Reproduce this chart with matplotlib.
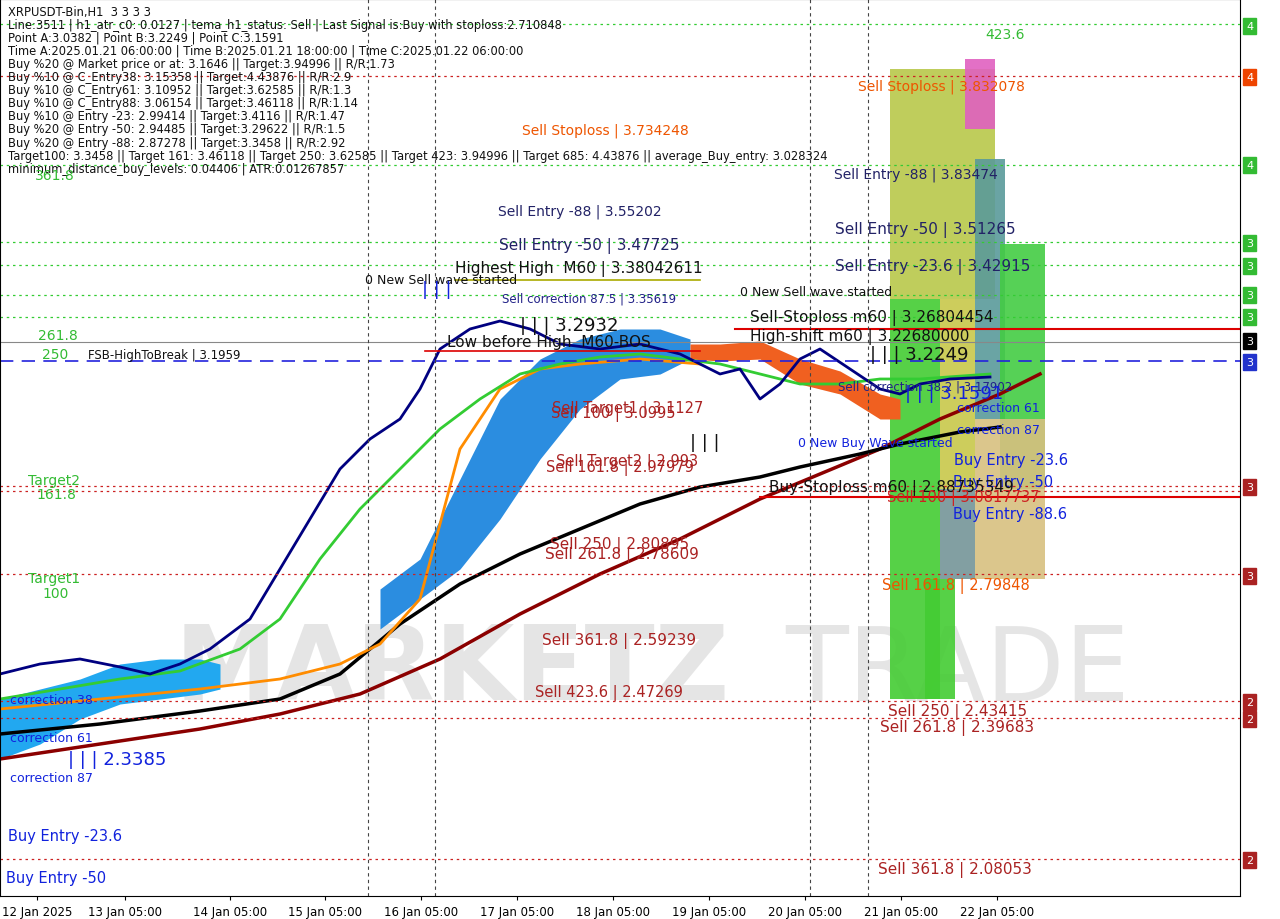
import matplotlib
matplotlib.use("Agg")
import matplotlib.pyplot as plt
import numpy as np

# conversion of picture readings
def P(y): return 4.007 - 0.002238*np.asarray(y, float)
def B(x): return np.asarray(x, float)/4.0

tick_pos_px = [37,125,230,325,421,517,613,709,805,901,997]
tick_labels = ["12 Jan 2025","13 Jan 05:00","14 Jan 05:00","15 Jan 05:00","16 Jan 05:00","17 Jan 05:00",
               "18 Jan 05:00","19 Jan 05:00","20 Jan 05:00","21 Jan 05:00","22 Jan 05:00"]

navy_x=[0,40,80,120,150,180,210,250,280,310,340,370,400,420,440,470,500,530,560,600,640,680,700,720,740,760,780,800,820,850,880,900,920,950,990]
navy_y=[675,665,660,668,675,665,650,620,570,520,470,440,420,390,350,330,322,330,345,350,345,355,365,375,370,400,385,360,350,370,390,395,385,380,378]
green_x=[0,60,120,180,240,280,320,360,400,440,480,520,560,600,640,680,720,760,800,840,880,920,990]
green_y=[700,690,680,672,650,620,560,510,470,430,400,375,365,358,355,360,365,375,385,385,380,380,375]
orange_x=[0,100,200,280,340,380,420,460,500,540,580,640,700]
orange_y=[710,700,690,680,665,645,600,450,390,370,365,360,365]
black_x=[0,100,200,280,340,400,460,520,580,640,700,760,800,860,900,960,1000]
black_y=[735,725,712,700,675,625,585,555,530,505,488,478,468,455,445,433,428]
dred_x=[0,100,200,280,360,440,520,600,680,760,820,880,940,1000,1040]
dred_y=[760,745,730,715,695,660,615,575,540,500,475,450,420,395,375]
cloud_x=[380,420,460,500,540,580,620,660,690]
cloud_up=[590,560,480,400,360,340,330,330,340]
cloud_lo=[630,600,570,520,460,410,380,375,360]
lcloud_x=[0,40,80,120,160,200,220]
lcloud_up=[700,690,680,665,660,660,665]
lcloud_lo=[760,745,720,705,700,695,690]
ocloud_x=[690,720,760,800,840,880,900]
ocloud_up=[345,345,342,360,372,395,400]
ocloud_lo=[360,362,360,385,395,420,420]

fig = plt.figure(figsize=(12.8,9.2), dpi=100)
ax = fig.add_axes([0.0, 1-897/920, 1240/1280, 897/920])
ax.set_xlim(0,310); ax.set_ylim(P(897),P(0))

ax.text(B(175),P(672),"MARKETZ",fontsize=74,color="#9a9a9a",alpha=0.25,ha="left",va="center",fontweight="bold",zorder=0)
ax.text(B(785),P(672),"TRADE",fontsize=74,color="#9a9a9a",alpha=0.25,ha="left",va="center",zorder=0)

# rectangles right
rects=[(890,995,70,300,"#b8c84a"),(890,940,300,700,"#44cc33"),(940,975,300,580,"#c8c84a"),
       (965,995,60,130,"#e060c0"),(975,1005,160,420,"#5a9a9a"),(1000,1045,245,490,"#44cc44"),
       (975,1045,420,580,"#d8c080"),(940,975,490,580,"#7a9aaa"),(925,955,580,700,"#44cc33")]
for x0,x1,y0,y1,c in rects:
    ax.fill_between(B([x0,x1]),P(y1),P(y0),color=c,lw=0,alpha=0.9)

ax.fill_between(B(cloud_x),P(cloud_lo),P(cloud_up),color="#2b8de0",lw=0)
ax.fill_between(B(lcloud_x),P(lcloud_lo),P(lcloud_up),color="#22a8f0",lw=0)
ax.fill_between(B(ocloud_x),P(ocloud_lo),P(ocloud_up),color="#f06020",lw=0)

for xs,ys,c,w in [(dred_x,dred_y,"#8b0000",2.5),(black_x,black_y,"black",2.5),(orange_x,orange_y,"#ff8c00",2),
                  (green_x,green_y,"#33cc33",2),(navy_x,navy_y,"#000080",2)]:
    ax.plot(B(xs),P(ys),color=c,lw=w)

# horizontal levels
for y,c in [(25,"#33cc33"),(166,"#33cc33"),(243,"#33cc33"),(266,"#33cc33"),(296,"#33cc33"),(318,"#33cc33")]:
    ax.axhline(P(y),color=c,ls=(0,(2,3)),lw=0.9)
for y in [77,487,492,575,702,719,860]:
    ax.axhline(P(y),color="#cc2222",ls=(0,(2,3)),lw=0.9)
ax.axhline(P(362),color="#2222dd",ls=(0,(8,5)),lw=1.2)
ax.axhline(P(343),color="#888888",lw=0.8)
ax.plot(B([735,1240]),P([330,330]),color="#dd0000",lw=1.5)
ax.plot(B([760,1240]),P([498,498]),color="#dd0000",lw=1.5)
ax.plot(B([425,700]),P([352,352]),color="#dd0000",lw=1.2)
ax.plot(B([455,700]),P([281,281]),color="#aaaa00",lw=1.2)
for x in [368,435,810,868]:
    ax.axvline(B(x),color="#444444",ls=(0,(3,3)),lw=0.8)

# right axis boxes
for y,t,c in [(27,"4","#33bb33"),(78,"4","#ee4400"),(166,"4","#33bb33"),(244,"3","#33bb33"),(267,"3","#33bb33"),
              (296,"3","#33bb33"),(318,"3","#33bb33"),(342,"3","black"),(363,"3","#2233cc"),(488,"3","#aa2222"),
              (577,"3","#aa2222"),(703,"2","#aa2222"),(720,"2","#aa2222"),(861,"2","#aa2222")]:
    ax.text(1.005,P(y),t,transform=ax.get_yaxis_transform(),color="white",fontsize=8,va="center",
            bbox=dict(boxstyle="square,pad=0.25",fc=c,ec=c))
ax.yaxis.set_visible(False)
ax.set_xticks(B(tick_pos_px)); ax.set_xticklabels(tick_labels,fontsize=8.5)
ax.tick_params(axis="x",length=3)

header=["XRPUSDT-Bin,H1  3 3 3 3","Line:3511 | h1_atr_c0: 0.0127 | tema_h1_status: Sell | Last Signal is:Buy with stoploss:2.710848",
"Point A:3.0382 | Point B:3.2249 | Point C:3.1591","Time A:2025.01.21 06:00:00 | Time B:2025.01.21 18:00:00 | Time C:2025.01.22 06:00:00",
"Buy %20 @ Market price or at: 3.1646 || Target:3.94996 || R/R:1.73","Buy %10 @ C_Entry38: 3.15358 || Target:4.43876 || R/R:2.9",
"Buy %10 @ C_Entry61: 3.10952 || Target:3.62585 || R/R:1.3","Buy %10 @ C_Entry88: 3.06154 || Target:3.46118 || R/R:1.14",
"Buy %10 @ Entry -23: 2.99414 || Target:3.4116 || R/R:1.47","Buy %20 @ Entry -50: 2.94485 || Target:3.29622 || R/R:1.5",
"Buy %20 @ Entry -88: 2.87278 || Target:3.3458 || R/R:2.92",
"Target100: 3.3458 || Target 161: 3.46118 || Target 250: 3.62585 || Target 423: 3.94996 || Target 685: 4.43876 || average_Buy_entry: 3.028324",
"minimum_distance_buy_levels: 0.04406 | ATR:0.01267857"]
for i,h in enumerate(header):
    ax.text(B(8),P(12+i*13.1),h,fontsize=8.3,va="center",color="#111111")

def T(x,y,s,c,fs=9.5,**k): ax.text(B(x),P(y),s,color=c,fontsize=fs,va="center",**k)
T(985,35,"423.6","#33bb33",10); T(35,176,"361.8","#33bb33",10); T(38,336,"261.8","#33bb33",10)
T(42,355,"250","#33bb33",10); T(88,355,"FSB-HighToBreak | 3.1959","#111111",8.5)
T(28,481,"Target2","#33bb33",10); T(36,495,"161.8","#33bb33",10); T(28,579,"Target1","#33bb33",10); T(42,594,"100","#33bb33",10)
T(858,87,"Sell Stoploss | 3.832078","#ee5500",10); T(522,131,"Sell Stoploss | 3.734248","#ee5500",10)
T(834,175,"Sell Entry -88 | 3.83474","#222266",10); T(498,212,"Sell Entry -88 | 3.55202","#222266",10)
T(835,230,"Sell Entry -50 | 3.51265","#222266",11); T(499,246,"Sell Entry -50 | 3.47725","#222266",11)
T(835,267,"Sell Entry -23.6 | 3.42915","#222266",11); T(455,269,"Highest High  M60 | 3.38042611","#111111",11)
T(365,281,"0 New Sell wave started","#111111",9); T(740,292,"0 New Sell wave started","#111111",9)
T(502,299,"Sell correction 87.5 | 3.35619","#222288",8.5)
T(750,318,"Sell-Stoploss m60 | 3.26804454","#111111",11); T(750,337,"High-shift m60 | 3.22680000","#111111",11)
T(447,342,"Low before High  M60-BOS","#111111",11); T(520,326,"| | | 3.2932","#111111",13)
T(870,355,"| | | 3.2249","#111111",13); T(838,387,"Sell correction 38.2 | 3.17902","#222288",8.5)
T(905,394,"| | | 3.1591","#1122dd",13); T(957,409,"correction 61","#1122dd",9); T(957,431,"correction 87","#1122dd",9)
T(552,409,"Sell Target1 | 3.1127","#aa2222",10.5); T(551,414,"Sell 100 | 3.0995","#aa2222",10.5)
T(798,443,"0 New Buy Wave started","#1122dd",9); T(954,461,"Buy Entry -23.6","#1122dd",10.5)
T(556,462,"Sell Target2 | 2.993","#aa2222",10.5); T(546,468,"Sell 161.8 | 2.97979","#aa2222",10.5)
T(953,483,"Buy Entry -50","#1122dd",10.5); T(769,488,"Buy-Stoploss m60 | 2.88735349","#111111",11)
T(887,498,"Sell 100 | 3.0817737","#cc2222",10.5); T(953,515,"Buy Entry -88.6","#1122dd",10.5)
T(550,545,"Sell 250 | 2.80895","#aa2222",11); T(545,555,"Sell 261.8 | 2.78609","#aa2222",11)
T(882,586,"Sell 161.8 | 2.79848","#ee5500",10.5); T(542,641,"Sell 361.8 | 2.59239","#aa2222",11)
T(535,693,"Sell 423.6 | 2.47269","#aa2222",10.5); T(888,712,"Sell 250 | 2.43415","#aa2222",11)
T(880,728,"Sell 261.8 | 2.39683","#aa2222",11); T(878,870,"Sell 361.8 | 2.08053","#aa2222",11)
T(10,701,"correction 38","#1122dd",9); T(10,738,"correction 61","#1122dd",9); T(10,779,"correction 87","#1122dd",9)
T(68,760,"| | | 2.3385","#1122dd",13); T(8,837,"Buy Entry -23.6","#1122dd",10.5); T(6,879,"Buy Entry -50","#1122dd",10.5)
T(690,443,"| | |","#111111",13); T(422,290,"| | |","#1122dd",13)

fig.savefig("out.png",dpi=100)
